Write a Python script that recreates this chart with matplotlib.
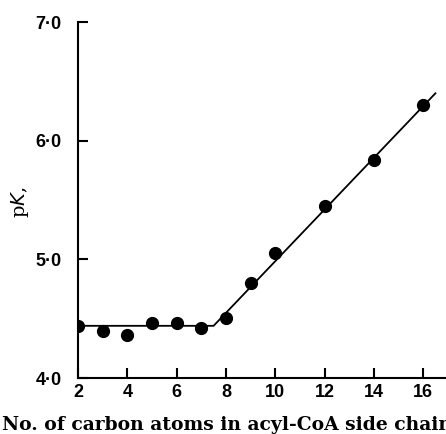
import matplotlib
matplotlib.use("Agg")
import matplotlib.pyplot as plt

# measured points
carbons = [2, 3, 4, 5, 6, 7, 8, 9, 10, 12, 14, 16]
pk = [4.44, 4.40, 4.36, 4.46, 4.46, 4.42, 4.51, 4.80, 5.05, 5.45, 5.84, 6.30]

# fitted broken line
fit_x = [2, 7.5, 16.5]
fit_y = [4.44, 4.44, 6.40]

x_ticks = [2, 4, 6, 8, 10, 12, 14, 16]
y_ticks = [4.0, 5.0, 6.0, 7.0]
y_labels = ['4·0', '5·0', '6·0', '7·0']

fig = plt.figure(figsize=(4.46, 4.34), dpi=100)
ax = fig.add_axes([0.175, 0.129, 0.825, 0.82])

ax.plot(fit_x, fit_y, color='black', lw=1.3)
ax.plot(carbons, pk, 'o', color='black', ms=8.5)

ax.set_xlim(2, 16.93)
ax.set_ylim(4.0, 7.0)
ax.spines['top'].set_visible(False)
ax.spines['right'].set_visible(False)
for s in ['left', 'bottom']:
    ax.spines[s].set_linewidth(1.5)

ax.set_xticks(x_ticks)
ax.set_xticklabels([str(t) for t in x_ticks], fontfamily='Liberation Sans',
                   fontweight='bold', fontsize=13)
ax.set_yticks(y_ticks)
ax.set_yticklabels(y_labels, fontfamily='Liberation Sans',
                   fontweight='bold', fontsize=13)
ax.tick_params(direction='in', length=7, width=1.5, pad=4)
ax.tick_params(axis='y', pad=12)

fig.text(20 / 446, 0.535, 'p$K$,', fontfamily='DejaVu Serif', fontsize=14,
         rotation=90, ha='center', va='center')
# the reference crops this label at the right edge
fig.text(0.005, 0.02, 'No. of carbon atoms in acyl-CoA side chain',
         fontfamily='DejaVu Serif', fontweight='bold', fontsize=13.5,
         ha='left', va='center')

fig.savefig('out.png', dpi=100)
